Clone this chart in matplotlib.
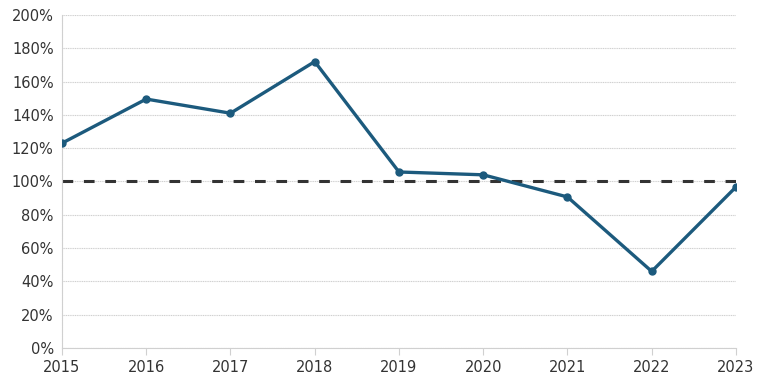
import matplotlib
matplotlib.use("Agg")
import matplotlib.pyplot as plt
from matplotlib.ticker import FuncFormatter

years = [2015, 2016, 2017, 2018, 2019, 2020, 2021, 2022, 2023]
ratio = [123, 149.5, 141, 172, 105.7, 104, 90.7, 46, 96.7]
target = 100

plt.rcParams["font.family"] = ["DejaVu Sans"]

fig = plt.figure(figsize=(7.68, 3.84), dpi=100)
ax = fig.add_axes([0.0807, 0.0938, 0.8776, 0.8672])

ax.plot([years[0], years[-1]], [target, target], color="#333333", lw=2.2,
        ls=(0, (3.5, 3.5)), zorder=2)
ax.plot(years, ratio, color="#1c5a7d", lw=2.4, marker="o", ms=5, zorder=3)

ax.set_xlim(years[0], years[-1])
ax.set_ylim(0, 200)
ax.set_xticks(years)
ax.set_yticks(range(0, 201, 20))
ax.yaxis.set_major_formatter(FuncFormatter(lambda v, p: f"{v:.0f}%"))
ax.grid(axis="y", color="#d0d0d0", lw=0.8, ls=(0, (1, 0.6)))

for s in ["top", "right"]:
    ax.spines[s].set_visible(False)
ax.spines["left"].set_color("#d0d0d0")
ax.spines["left"].set_linestyle((0, (1, 0.6)))
ax.spines["bottom"].set_color("#d0d0d0")
ax.tick_params(axis="y", length=0, pad=6, labelsize=10.5, labelcolor="#333333")
ax.tick_params(axis="x", length=5, color="#d0d0d0", pad=4, labelsize=10.5,
               labelcolor="#333333")

fig.savefig("out.png", dpi=100)
